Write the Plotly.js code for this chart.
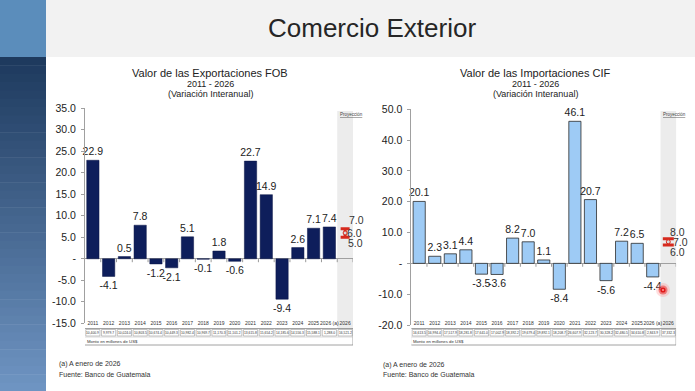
<!DOCTYPE html>
<html><head><meta charset="utf-8">
<script src="https://cdn.plot.ly/plotly-3.0.1.min.js"></script>
<style>html,body{margin:0;padding:0;background:#fff;overflow:hidden}#chart{width:695px;height:391px}</style>
</head><body><div id="chart"></div>
<script>
// ---------------- DATA ----------------
const categories = ['2011','2012','2013','2014','2015','2016','2017','2018','2019','2020','2021','2022','2023','2024','2025','2026 (a)','2026'];
const exportGrowth = [22.9,-4.1,0.5,7.8,-1.2,-2.1,5.1,-0.1,1.8,-0.6,22.7,14.9,-9.4,2.6,7.1,7.4,null];
const importGrowth = [20.1,2.3,3.1,4.4,-3.5,-3.6,8.2,7.0,1.1,-8.4,46.1,20.7,-5.6,7.2,6.5,-4.4,null];
const exportAmounts = ['10,400.9','9,979.7','10,024.0','10,803.5','10,674.4','10,449.3','10,982.4','10,969.7','11,170.3','11,101.2','13,615.8','15,654.2','14,185.6','14,556.3','15,588.1','1,288.0','16,521.2'];
const importAmounts = ['16,613.5','16,994.4','17,517.9','18,281.8','17,641.0','17,002.9','18,392.2','19,679.4','19,892.1','18,208.7','26,607.9','32,123.7','30,328.2','32,480.5','34,610.8','2,843.9','37,332.3'];
const projCategory = '2026';
const exportProjection = [5.0, 6.0, 7.0];   // low, mid, high
const importProjection = [6.0, 7.0, 8.0];
const exportTickVals = [35,30,25,20,15,10,5,0,-5,-10,-15];
const importTickVals = [50,40,30,20,10,0,-10,-20];
const exportTitle = ['Valor de las Exportaciones FOB','2011 - 2026','(Variación Interanual)'];
const importTitle = ['Valor de las Importaciones CIF','2011 - 2026','(Variación Interanual)'];
const footnotes = ['(a) A enero de 2026','Fuente: Banco de Guatemala'];

// ---------------- LAYOUT HELPERS ----------------
const W = 695, H = 391;
const px = x => x / W;
const py = y => 1 - y / H;
const FONT = 'Liberation Sans, Arial, sans-serif';
const tickText = v => v === 0 ? '-' : v.toFixed(1);
const projIndex = categories.indexOf(projCategory);

const shapes = [];
const annotations = [];
function note(o) { annotations.push(Object.assign({showarrow:false, xanchor:'center', yanchor:'middle'}, o)); }

// slide background: top band & left strip
shapes.push({type:'rect', xref:'paper', yref:'paper', x0:0, x1:1, y0:py(57), y1:1, fillcolor:'#f2f2f2', line:{width:0}, layer:'below'});
shapes.push({type:'rect', xref:'paper', yref:'paper', x0:0, x1:px(46), y0:py(57), y1:1, fillcolor:'#5b8dbb', line:{width:0}, layer:'below'});
const gradTop = [30,58,94], gradBot = [110,148,194];
const nBands = 40;
for (let k = 0; k < nBands; k++) {
  const t = k / (nBands - 1);
  const c = gradTop.map((v,j) => Math.round(v + (gradBot[j]-v)*t));
  const y0 = 57 + (H-57)*k/nBands, y1 = 57 + (H-57)*(k+1)/nBands;
  shapes.push({type:'rect', xref:'paper', yref:'paper', x0:0, x1:px(46), y0:py(y1+0.5), y1:py(y0), fillcolor:`rgb(${c.join(',')})`, line:{width:0}, layer:'below'});
}
note({text:'Comercio Exterior', xref:'paper', yref:'paper', x:px(372), y:py(27.5), font:{family:FONT, size:26, color:'#262626'}});

function panel(xa, ya, title, titleX, amounts, proj, projShift, tickGap) {
  // projection band
  shapes.push({type:'rect', xref:xa, yref:'paper', x0:15.5, x1:17.1, y0:py(329), y1:py(111), fillcolor:'#ececec', line:{width:0}, layer:'below'});
  note({text:'<u>Proyección</u>', xref:xa, yref:'paper', x:15.55, xanchor:'left', y:py(114.5), font:{family:FONT, size:4.5, color:'#444'}});
  // titles
  const tY = [72.5, 84, 94], tS = [11, 9, 9];
  title.forEach((t,i) => note({text:t, xref:'paper', yref:'paper', x:px(titleX), y:py(tY[i]), font:{family:FONT, size:tS[i], color:'#222'}}));
  // tick marks on zero line
  for (let i = 1; i <= categories.length; i++) {
    shapes.push({type:'line', xref:xa, yref:ya, x0:i-0.5, x1:i-0.5, y0:0, y1:-tickGap, line:{color:'#9a9a9a', width:1}});
  }
  // data table under the chart
  categories.forEach((c,i) => {
    shapes.push({type:'rect', xref:xa, yref:'paper', x0:i-0.45, x1:i+0.45, y0:py(336), y1:py(329.5), fillcolor:'rgba(0,0,0,0)', line:{color:'#9a9a9a', width:0.6}});
    note({text:amounts[i], xref:xa, yref:'paper', x:i, y:py(332.8), font:{family:FONT, size:3.3, color:'#333'}});
  });
  shapes.push({type:'rect', xref:xa, yref:'paper', x0:-0.55, x1:16.5, y0:py(345), y1:py(328.5), fillcolor:'rgba(0,0,0,0)', line:{color:'#8a8a8a', width:0.8}});
  shapes.push({type:'line', xref:xa, yref:'paper', x0:-0.55, x1:16.5, y0:py(337), y1:py(337), line:{color:'#b0b0b0', width:0.5}});
  note({text:'Monto en millones de US$', xref:xa, yref:'paper', x:-0.5, xanchor:'left', y:py(341), font:{family:FONT, size:4.3, color:'#333'}});
  // projection labels
  proj.forEach((v,i) => note({text:v.toFixed(1), xref:xa, yref:ya, x:projIndex, y:v, xanchor:'left', xshift:projShift[i][0], yshift:projShift[i][1], font:{family:FONT, size:10.5, color:'#333'}}));
}

panel('x','y', exportTitle, 210, exportAmounts, exportProjection, [[1,-6],[0,0],[2,8.5]], 0.8);
panel('x2','y2', importTitle, 535, importAmounts, importProjection, [[0,-7],[3,0],[0,7]], 1.1);

footnotes.forEach((t,i) => {
  note({text:t, xref:'paper', yref:'paper', x:px(57), xanchor:'left', y:py(364 + i*10), font:{family:FONT, size:7, color:'#333'}});
  note({text:t, xref:'paper', yref:'paper', x:px(381), xanchor:'left', y:py(364.5 + i*10), font:{family:FONT, size:7, color:'#333'}});
});

// laser pointer dot on the slide
[[7,'rgba(255,120,120,0.25)'],[4.5,'rgba(235,50,50,0.55)'],[2.6,'#e01818'],[1,'#ff9a9a']].forEach(([r,c]) => {
  shapes.push({type:'circle', xref:'paper', yref:'paper', x0:px(663-r), x1:px(663+r), y0:py(290+r), y1:py(290-r), fillcolor:c, line:{width:0}});
});

// ---------------- TRACES ----------------
const barText = {family:FONT, size:10.5, color:'#222'};
const traces = [
  {type:'bar', x:categories, y:exportGrowth, xaxis:'x', yaxis:'y',
   marker:{color:'#0e1e5b', line:{color:'#0a1444', width:0.5}},
   texttemplate:'%{y:.1f}', textposition:'outside', constraintext:'none', cliponaxis:false, textfont:barText, outsidetextfont:barText, hoverinfo:'skip'},
  {type:'bar', x:categories, y:importGrowth, xaxis:'x2', yaxis:'y2',
   marker:{color:'#9ecbf5', line:{color:'#2b2b2b', width:0.8}},
   texttemplate:'%{y:.1f}', textposition:'outside', constraintext:'none', cliponaxis:false, textfont:barText, outsidetextfont:barText, hoverinfo:'skip'},
  {type:'scatter', mode:'markers', x:[projCategory], y:[exportProjection[1]], xaxis:'x', yaxis:'y',
   marker:{size:4, color:'#d9d9d9', line:{color:'#d62a1e', width:1}},
   error_y:{type:'data', symmetric:false, array:[exportProjection[2]-exportProjection[1]], arrayminus:[exportProjection[1]-exportProjection[0]], color:'#d62a1e', thickness:3, width:4.5}, cliponaxis:false},
  {type:'scatter', mode:'markers', x:[projCategory], y:[importProjection[1]], xaxis:'x2', yaxis:'y2',
   marker:{size:4, color:'#d9d9d9', line:{color:'#d62a1e', width:1}},
   error_y:{type:'data', symmetric:false, array:[importProjection[2]-importProjection[1]], arrayminus:[importProjection[1]-importProjection[0]], color:'#d62a1e', thickness:3, width:5.5}, cliponaxis:false}
];

const xCommon = {type:'category', categoryorder:'array', categoryarray:categories, range:[-0.5,16.5],
  showline:false, showgrid:false, zeroline:false, ticks:'', ticklen:0,
  tickfont:{family:FONT, size:5, color:'#333'}, tickangle:0, fixedrange:true, anchor:'free'};
const yCommon = {showgrid:false, showline:true, linecolor:'#a0a0a0', linewidth:1, ticks:'outside', ticklen:3, tickcolor:'#a0a0a0',
  ticklabelstandoff:3, zeroline:true, zerolinecolor:'#a0a0a0', zerolinewidth:1, tickfont:{family:FONT, size:10.5, color:'#222'}, fixedrange:true};

const layout = {
  width:W, height:H, margin:{l:0,r:0,t:0,b:0}, paper_bgcolor:'#ffffff', plot_bgcolor:'rgba(0,0,0,0)',
  showlegend:false, bargap:0.22, font:{family:FONT},
  xaxis:Object.assign({}, xCommon, {domain:[px(85), px(353)], position:py(318.5)}),
  yaxis:Object.assign({}, yCommon, {domain:[py(323.3), py(108.2)], range:[-15,35], anchor:'x',
    tickvals:exportTickVals, ticktext:exportTickVals.map(tickText)}),
  xaxis2:Object.assign({}, xCommon, {domain:[px(411.4), px(676.1)], position:py(319)}),
  yaxis2:Object.assign({}, yCommon, {domain:[py(325), py(109.3)], range:[-20,50], anchor:'x2',
    tickvals:importTickVals, ticktext:importTickVals.map(tickText)}),
  shapes:shapes, annotations:annotations
};

Plotly.newPlot('chart', traces, layout, {staticPlot:true, displayModeBar:false});
</script>
</body></html>
